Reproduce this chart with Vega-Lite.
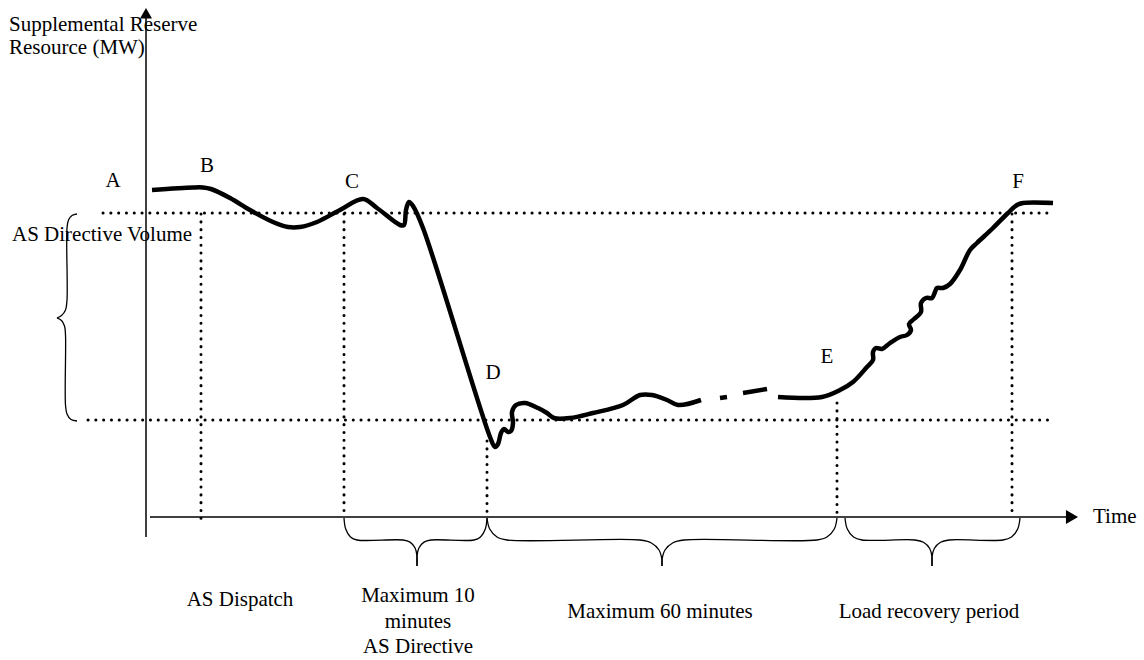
{
  "$schema": "https://vega.github.io/schema/vega-lite/v6.json",
  "width": 1144,
  "height": 660,
  "autosize": {"type": "fit", "contains": "padding"},
  "padding": 0,
  "background": "white",
  "config": {"view": {"stroke": null}},
  "datasets": {
    "dotted": [
      {"x": 103, "y": 213, "x2": 1053, "y2": 213},
      {"x": 88, "y": 420, "x2": 1053, "y2": 420},
      {"x": 201, "y": 214, "x2": 201, "y2": 525},
      {"x": 344, "y": 214, "x2": 344, "y2": 517},
      {"x": 487, "y": 441, "x2": 487, "y2": 517},
      {"x": 837, "y": 403, "x2": 837, "y2": 517},
      {"x": 1012, "y": 214, "x2": 1012, "y2": 517}
    ],
    "axes": [
      {"x": 146, "y": 16, "x2": 146, "y2": 537},
      {"x": 150, "y": 517, "x2": 1066, "y2": 517}
    ],
    "arrows": [
      {"name": "up", "x": 146, "y": 13.2},
      {"name": "right", "x": 1072, "y": 517}
    ],
    "braces": [
      {"b": "L1", "i": 1, "x": 77, "y": 214},
      {"b": "L1", "i": 2, "x": 72, "y": 215.5},
      {"b": "L1", "i": 3, "x": 68.5, "y": 220},
      {"b": "L1", "i": 4, "x": 67, "y": 228},
      {"b": "L1", "i": 5, "x": 67, "y": 300},
      {"b": "L1", "i": 6, "x": 65.5, "y": 310},
      {"b": "L1", "i": 7, "x": 61.5, "y": 315.5},
      {"b": "L1", "i": 8, "x": 57, "y": 318},
      {"b": "L2", "i": 1, "x": 57, "y": 318},
      {"b": "L2", "i": 2, "x": 61.5, "y": 320.5},
      {"b": "L2", "i": 3, "x": 64.5, "y": 326},
      {"b": "L2", "i": 4, "x": 65.5, "y": 335},
      {"b": "L2", "i": 5, "x": 65.5, "y": 405},
      {"b": "L2", "i": 6, "x": 67, "y": 414},
      {"b": "L2", "i": 7, "x": 71, "y": 419.5},
      {"b": "L2", "i": 8, "x": 77, "y": 421},

      {"b": "A1", "i": 1, "x": 344, "y": 518},
      {"b": "A1", "i": 2, "x": 345.7, "y": 529},
      {"b": "A1", "i": 3, "x": 350.5, "y": 537},
      {"b": "A1", "i": 4, "x": 357, "y": 540},
      {"b": "A1", "i": 5, "x": 403, "y": 540},
      {"b": "A1", "i": 6, "x": 410, "y": 542.1},
      {"b": "A1", "i": 7, "x": 415.1, "y": 548},
      {"b": "A1", "i": 8, "x": 417, "y": 556},
      {"b": "A1", "i": 9, "x": 417, "y": 566},
      {"b": "A2", "i": 1, "x": 417, "y": 566},
      {"b": "A2", "i": 2, "x": 417, "y": 556},
      {"b": "A2", "i": 3, "x": 418.9, "y": 548},
      {"b": "A2", "i": 4, "x": 424, "y": 542.1},
      {"b": "A2", "i": 5, "x": 431, "y": 540},
      {"b": "A2", "i": 6, "x": 474, "y": 540},
      {"b": "A2", "i": 7, "x": 480.5, "y": 537},
      {"b": "A2", "i": 8, "x": 485.3, "y": 529},
      {"b": "A2", "i": 9, "x": 487, "y": 518},

      {"b": "B1", "i": 1, "x": 487, "y": 518},
      {"b": "B1", "i": 2, "x": 489.7, "y": 529},
      {"b": "B1", "i": 3, "x": 497, "y": 537},
      {"b": "B1", "i": 4, "x": 507, "y": 540},
      {"b": "B1", "i": 5, "x": 640, "y": 540},
      {"b": "B1", "i": 6, "x": 651, "y": 542.7},
      {"b": "B1", "i": 7, "x": 659, "y": 550},
      {"b": "B1", "i": 8, "x": 662, "y": 560},
      {"b": "B1", "i": 9, "x": 662, "y": 566},
      {"b": "B2", "i": 1, "x": 662, "y": 566},
      {"b": "B2", "i": 2, "x": 662, "y": 560},
      {"b": "B2", "i": 3, "x": 665, "y": 550},
      {"b": "B2", "i": 4, "x": 673, "y": 542.7},
      {"b": "B2", "i": 5, "x": 684, "y": 540},
      {"b": "B2", "i": 6, "x": 817, "y": 540},
      {"b": "B2", "i": 7, "x": 827, "y": 537},
      {"b": "B2", "i": 8, "x": 834.3, "y": 529},
      {"b": "B2", "i": 9, "x": 837, "y": 518},

      {"b": "C1", "i": 1, "x": 845, "y": 518},
      {"b": "C1", "i": 2, "x": 847.3, "y": 529},
      {"b": "C1", "i": 3, "x": 853.5, "y": 537},
      {"b": "C1", "i": 4, "x": 862, "y": 540},
      {"b": "C1", "i": 5, "x": 915, "y": 540},
      {"b": "C1", "i": 6, "x": 923.5, "y": 542.3},
      {"b": "C1", "i": 7, "x": 929.7, "y": 548.5},
      {"b": "C1", "i": 8, "x": 932, "y": 557},
      {"b": "C1", "i": 9, "x": 932, "y": 566},
      {"b": "C2", "i": 1, "x": 932, "y": 566},
      {"b": "C2", "i": 2, "x": 932, "y": 557},
      {"b": "C2", "i": 3, "x": 934.3, "y": 548.5},
      {"b": "C2", "i": 4, "x": 940.5, "y": 542.3},
      {"b": "C2", "i": 5, "x": 949, "y": 540},
      {"b": "C2", "i": 6, "x": 1003, "y": 540},
      {"b": "C2", "i": 7, "x": 1011.5, "y": 537},
      {"b": "C2", "i": 8, "x": 1017.7, "y": 529},
      {"b": "C2", "i": 9, "x": 1020, "y": 518}
    ],
    "curve": [
      {"s": "a", "i": 1, "x": 152, "y": 190},
      {"s": "a", "i": 2, "x": 193, "y": 187.5},
      {"s": "a", "i": 3, "x": 203, "y": 187.5},
      {"s": "a", "i": 4, "x": 211, "y": 189},
      {"s": "a", "i": 5, "x": 230, "y": 198},
      {"s": "a", "i": 6, "x": 250, "y": 210},
      {"s": "a", "i": 7, "x": 273, "y": 222},
      {"s": "a", "i": 8, "x": 288, "y": 227},
      {"s": "a", "i": 9, "x": 300, "y": 227},
      {"s": "a", "i": 10, "x": 317, "y": 222},
      {"s": "a", "i": 11, "x": 340, "y": 210},
      {"s": "a", "i": 12, "x": 363, "y": 199},
      {"s": "a", "i": 13, "x": 377, "y": 208},
      {"s": "a", "i": 14, "x": 400, "y": 225},
      {"s": "a", "i": 15, "x": 404, "y": 225},
      {"s": "a", "i": 16, "x": 406, "y": 210},
      {"s": "a", "i": 17, "x": 409, "y": 202},
      {"s": "a", "i": 18, "x": 413, "y": 206},
      {"s": "a", "i": 19, "x": 423, "y": 228},
      {"s": "a", "i": 20, "x": 490, "y": 437},
      {"s": "a", "i": 21, "x": 495, "y": 447},
      {"s": "a", "i": 22, "x": 498, "y": 444},
      {"s": "a", "i": 23, "x": 501, "y": 433},
      {"s": "a", "i": 24, "x": 504, "y": 429},
      {"s": "a", "i": 25, "x": 508, "y": 432},
      {"s": "a", "i": 26, "x": 511, "y": 431},
      {"s": "a", "i": 27, "x": 513, "y": 423},
      {"s": "a", "i": 28, "x": 512, "y": 412},
      {"s": "a", "i": 29, "x": 516, "y": 405},
      {"s": "a", "i": 30, "x": 525, "y": 403},
      {"s": "a", "i": 31, "x": 538, "y": 408},
      {"s": "a", "i": 32, "x": 547, "y": 413},
      {"s": "a", "i": 33, "x": 554, "y": 418},
      {"s": "a", "i": 34, "x": 570, "y": 418},
      {"s": "a", "i": 35, "x": 593, "y": 413},
      {"s": "a", "i": 36, "x": 623, "y": 405},
      {"s": "a", "i": 37, "x": 640, "y": 395},
      {"s": "a", "i": 38, "x": 652, "y": 395},
      {"s": "a", "i": 39, "x": 667, "y": 400},
      {"s": "a", "i": 40, "x": 678, "y": 405},
      {"s": "a", "i": 41, "x": 701, "y": 400},
      {"s": "b", "i": 1, "x": 720, "y": 398},
      {"s": "b", "i": 2, "x": 727, "y": 397},
      {"s": "c", "i": 1, "x": 743, "y": 393},
      {"s": "c", "i": 2, "x": 767, "y": 389},
      {"s": "d", "i": 1, "x": 778, "y": 397},
      {"s": "d", "i": 2, "x": 822, "y": 397},
      {"s": "d", "i": 3, "x": 840, "y": 390},
      {"s": "d", "i": 4, "x": 853, "y": 382},
      {"s": "d", "i": 5, "x": 867, "y": 367},
      {"s": "d", "i": 6, "x": 873, "y": 360},
      {"s": "d", "i": 7, "x": 873, "y": 352},
      {"s": "d", "i": 8, "x": 876, "y": 348},
      {"s": "d", "i": 9, "x": 882, "y": 349},
      {"s": "d", "i": 10, "x": 890, "y": 343},
      {"s": "d", "i": 11, "x": 900, "y": 337},
      {"s": "d", "i": 12, "x": 907, "y": 335},
      {"s": "d", "i": 13, "x": 911, "y": 330},
      {"s": "d", "i": 14, "x": 909, "y": 324},
      {"s": "d", "i": 15, "x": 914, "y": 319},
      {"s": "d", "i": 16, "x": 921, "y": 312},
      {"s": "d", "i": 17, "x": 921, "y": 303},
      {"s": "d", "i": 18, "x": 926, "y": 298},
      {"s": "d", "i": 19, "x": 932, "y": 298},
      {"s": "d", "i": 20, "x": 935, "y": 292},
      {"s": "d", "i": 21, "x": 937, "y": 288},
      {"s": "d", "i": 22, "x": 943, "y": 288},
      {"s": "d", "i": 23, "x": 950, "y": 284},
      {"s": "d", "i": 24, "x": 960, "y": 270},
      {"s": "d", "i": 25, "x": 970, "y": 250},
      {"s": "d", "i": 26, "x": 977, "y": 243},
      {"s": "d", "i": 27, "x": 993, "y": 228},
      {"s": "d", "i": 28, "x": 1008, "y": 213},
      {"s": "d", "i": 29, "x": 1017, "y": 205},
      {"s": "d", "i": 30, "x": 1023, "y": 203},
      {"s": "d", "i": 31, "x": 1053, "y": 203}
    ],
    "labelsLeft": [
      {"x": 9, "y": 31, "text": "Supplemental Reserve"},
      {"x": 9, "y": 54, "text": "Resource (MW)"},
      {"x": 12, "y": 241, "text": "AS Directive Volume"},
      {"x": 1093, "y": 523, "text": "Time"}
    ],
    "labelsCenter": [
      {"x": 113, "y": 187, "text": "A"},
      {"x": 207, "y": 172, "text": "B"},
      {"x": 352, "y": 188, "text": "C"},
      {"x": 493, "y": 379, "text": "D"},
      {"x": 827, "y": 363, "text": "E"},
      {"x": 1018, "y": 188, "text": "F"},
      {"x": 240, "y": 606, "text": "AS Dispatch"},
      {"x": 418, "y": 602, "text": "Maximum 10"},
      {"x": 418, "y": 628, "text": "minutes"},
      {"x": 418, "y": 653, "text": "AS Directive"},
      {"x": 660, "y": 618, "text": "Maximum 60 minutes"},
      {"x": 929, "y": 618, "text": "Load recovery period"}
    ]
  },
  "encoding": {
    "x": {"field": "x", "type": "quantitative", "scale": {"domain": [0, 1144], "nice": false, "zero": false}, "axis": null},
    "y": {"field": "y", "type": "quantitative", "scale": {"domain": [0, 660], "reverse": true, "nice": false, "zero": false}, "axis": null}
  },
  "layer": [
    {
      "data": {"name": "dotted"},
      "mark": {"type": "rule", "color": "black", "strokeWidth": 3, "strokeDash": [0.1, 7.7], "strokeCap": "round"},
      "encoding": {"x2": {"field": "x2"}, "y2": {"field": "y2"}}
    },
    {
      "data": {"name": "axes"},
      "mark": {"type": "rule", "color": "black", "strokeWidth": 1.5},
      "encoding": {"x2": {"field": "x2"}, "y2": {"field": "y2"}}
    },
    {
      "data": {"name": "braces"},
      "mark": {"type": "line", "color": "black", "strokeWidth": 1.3, "interpolate": "catmull-rom"},
      "encoding": {"detail": {"field": "b"}, "order": {"field": "i"}}
    },
    {
      "data": {"name": "curve"},
      "mark": {"type": "line", "color": "black", "strokeWidth": 4.5, "interpolate": "catmull-rom", "strokeCap": "butt", "strokeJoin": "round"},
      "encoding": {"detail": {"field": "s"}, "order": {"field": "i"}}
    },
    {
      "data": {"name": "arrows"},
      "transform": [{"filter": "datum.name === 'up'"}],
      "mark": {"type": "point", "shape": "triangle-up", "filled": true, "color": "black", "size": 144, "opacity": 1}
    },
    {
      "data": {"name": "arrows"},
      "transform": [{"filter": "datum.name === 'right'"}],
      "mark": {"type": "point", "shape": "triangle-right", "filled": true, "color": "black", "size": 196, "opacity": 1}
    },
    {
      "data": {"name": "labelsLeft"},
      "mark": {"type": "text", "align": "left", "baseline": "alphabetic", "font": "Liberation Serif", "fontSize": 21, "color": "black"},
      "encoding": {"text": {"field": "text"}}
    },
    {
      "data": {"name": "labelsCenter"},
      "mark": {"type": "text", "align": "center", "baseline": "alphabetic", "font": "Liberation Serif", "fontSize": 21, "color": "black"},
      "encoding": {"text": {"field": "text"}}
    }
  ]
}
